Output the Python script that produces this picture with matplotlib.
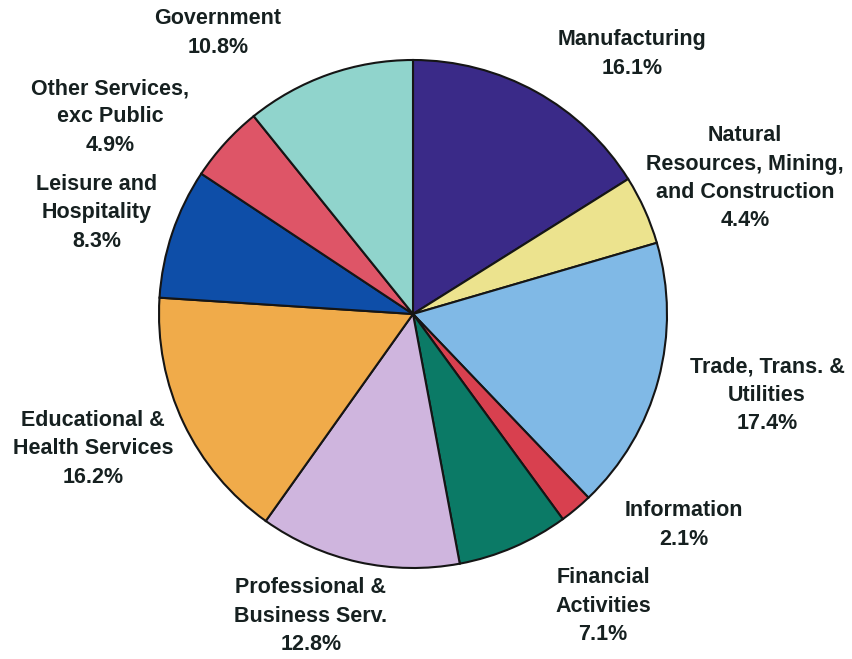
"""Employment by industry sector, pie chart."""

import matplotlib.pyplot as plt
import matplotlib

matplotlib.rcParams["font.family"] = ["Liberation Sans", "DejaVu Sans"]

# Sector shares (percent), clockwise from 12 o'clock
sectors = [
    "Manufacturing",
    "Natural\nResources, Mining,\nand Construction",
    "Trade, Trans. &\nUtilities",
    "Information",
    "Financial\nActivities",
    "Professional &\nBusiness Serv.",
    "Educational &\nHealth Services",
    "Leisure and\nHospitality",
    "Other Services,\nexc Public",
    "Government",
]
shares = [16.1, 4.4, 17.4, 2.1, 7.1, 12.8, 16.2, 8.3, 4.9, 10.8]

colors = [
    "#3a2a88",  # manufacturing
    "#ece38e",  # natural resources
    "#80b9e6",  # trade
    "#d8404f",  # information
    "#0b7a66",  # financial
    "#cfb5de",  # professional
    "#f0ab4a",  # educational
    "#0e4ea8",  # leisure
    "#de5567",  # other services
    "#90d4cc",  # government
]

# Label anchor points in pie-radius units (centre of each text block)
label_pos = [
    (0.862, 1.024),
    (1.307, 0.535),
    (1.394, -0.319),
    (1.067, -0.831),
    (0.748, -1.150),
    (-0.402, -1.189),
    (-1.260, -0.531),
    (-1.244, 0.398),
    (-1.193, 0.776),
    (-0.768, 1.106),
]

TEXT = "#162020"

fig = plt.figure(figsize=(8.53, 6.59), dpi=100)
ax = fig.add_axes([0, 0, 1, 1])

ax.pie(shares, colors=colors, startangle=90, counterclock=False,
       radius=1.0, center=(0, 0),
       wedgeprops=dict(edgecolor="#151515", linewidth=1.5))

for name, val, (x, y) in zip(sectors, shares, label_pos):
    ax.text(x, y, f"{name}\n{val:.1f}%", ha="center", va="center",
            fontsize=15.5, fontweight="bold", color=TEXT, linespacing=1.45)

# Pie centre sits at (413, 314) px with a 254 px radius
ax.set_xlim(-413 / 254, (853 - 413) / 254)
ax.set_ylim(-(659 - 314) / 254, 314 / 254)
ax.set_aspect("equal")
ax.axis("off")

fig.savefig("out.png", dpi=100)
